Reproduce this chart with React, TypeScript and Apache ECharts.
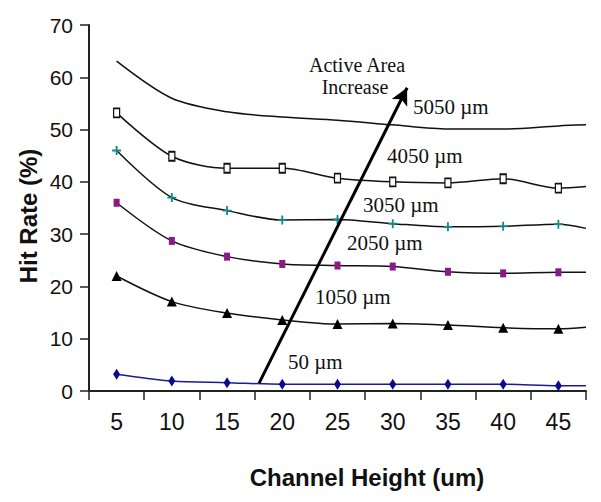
import React, { useEffect, useRef } from "react";
import * as echarts from "echarts";

// Channel heights (um) — x categories
const categories = [5, 10, 15, 20, 25, 30, 35, 40, 45];
// x position where plotted lines reach the right end of the axis
const axisEndX = 47.5;
const axisStartX = 2.5;

// Hit rate (%) per active-area series
const s5050 = [63.1, 56.0, 53.4, 52.4, 51.8, 50.9, 50.1, 50.1, 50.7];
const s4050 = [53.2, 44.9, 42.6, 42.6, 40.7, 40.0, 39.8, 40.6, 38.8];
const s3050 = [46.0, 37.0, 34.5, 32.7, 32.8, 32.0, 31.4, 31.5, 31.9];
const s2050 = [36.0, 28.7, 25.7, 24.3, 24.0, 23.8, 22.8, 22.5, 22.7];
const s1050 = [22.0, 17.1, 14.9, 13.6, 12.8, 12.9, 12.6, 12.1, 11.9];
const s50 = [3.2, 1.9, 1.6, 1.3, 1.3, 1.3, 1.3, 1.3, 1.0];
// value of each line where it meets the right end of the axis
const edgeValues = [50.9, 39.1, 31.1, 22.7, 12.2, 1.0];

const seriesNames = ["5050 µm", "4050 µm", "3050 µm", "2050 µm", "1050 µm", "50 µm"];
const yTicks = [0, 10, 20, 30, 40, 50, 60, 70];
const arrowLabelLines = ["Active Area", "Increase"];

// arrow annotation, data coordinates
const arrowFrom = [17.9, 1.5];
const arrowTo = [31.3, 58.0];

const plusPath = "path://M4,0h2v4h4v2h-4v4h-2v-4h-4v-2h4z";

export default function App() {
  const ref = useRef<HTMLDivElement>(null);
  useEffect(() => {
    if (!ref.current) return;
    const chart = echarts.init(ref.current, undefined, { renderer: "svg" });

    const mk = (vals: number[], edge: number) => [
      ...vals.map((v, i) => [categories[i], v]),
      { value: [axisEndX, edge], symbol: "none" },
    ];

    const styles = [
      { color: "#111", symbol: "none", symbolSize: 0, itemStyle: { color: "#111" } },
      { color: "#111", symbol: "rect", symbolSize: [6, 9], itemStyle: { color: "#fff", borderColor: "#111", borderWidth: 1.5 } },
      { color: "#111", symbol: plusPath, symbolSize: 9, itemStyle: { color: "#0f8a8a" } },
      { color: "#111", symbol: "rect", symbolSize: [6, 8], itemStyle: { color: "#8a1a8a" } },
      { color: "#111", symbol: "triangle", symbolSize: [10, 10], itemStyle: { color: "#000" } },
      { color: "#1a1a9a", symbol: "diamond", symbolSize: [7, 11], itemStyle: { color: "#0a0a90" } },
    ];
    const datasets = [s5050, s4050, s3050, s2050, s1050, s50];

    const series: any[] = datasets.map((vals, k) => ({
      name: seriesNames[k],
      type: "line",
      xAxisIndex: 1,
      smooth: 0.3,
      data: mk(vals, edgeValues[k]),
      symbol: styles[k].symbol,
      symbolSize: styles[k].symbolSize,
      showSymbol: styles[k].symbol !== "none",
      lineStyle: { color: styles[k].color, width: 1.5 },
      itemStyle: styles[k].itemStyle,
      z: 3,
    }));

    series[5].markLine = {
      silent: true,
      symbol: ["none", "arrow"],
      symbolSize: [13, 17],
      label: { show: false },
      lineStyle: { color: "#000", width: 3, type: "solid" },
      data: [[{ coord: arrowFrom }, { coord: arrowTo }]],
      z: 5,
    };

    const serif = "'Liberation Serif', 'Times New Roman', serif";
    const sans = "'Liberation Sans', Arial, sans-serif";
    const labelPos = [
      [413, 107],
      [387, 156],
      [363, 205],
      [347, 243],
      [315, 297],
      [288, 362],
    ];

    const graphic: any[] = seriesNames.map((n, k) => ({
      type: "text",
      x: labelPos[k][0],
      y: labelPos[k][1],
      style: { text: n, font: `21px ${serif}`, fill: "#111", textAlign: "left", textVerticalAlign: "middle" },
      z: 10,
    }));
    graphic.push(
      { type: "text", x: 357, y: 65, style: { text: arrowLabelLines[0], font: `20px ${serif}`, fill: "#111", textAlign: "center", textVerticalAlign: "middle" }, z: 10 },
      { type: "text", x: 355, y: 87, style: { text: arrowLabelLines[1], font: `20px ${serif}`, fill: "#111", textAlign: "center", textVerticalAlign: "middle" }, z: 10 },
      { type: "text", x: 367, y: 477, style: { text: "Channel Height (um)", font: `bold 24px ${sans}`, fill: "#111", textAlign: "center", textVerticalAlign: "middle" }, z: 10 },
      { type: "text", x: 28, y: 216, rotation: Math.PI / 2, style: { text: "Hit Rate (%)", font: `bold 24px ${sans}`, fill: "#111", textAlign: "center", textVerticalAlign: "middle" }, z: 10 }
    );

    chart.setOption({
      animation: false,
      backgroundColor: "#fff",
      grid: { left: 89, right: 15, top: 25, bottom: 111, containLabel: false },
      xAxis: [
        {
          type: "category",
          data: categories.map(String),
          boundaryGap: true,
          axisLine: { show: true, lineStyle: { color: "#222", width: 2 } },
          axisTick: { show: true, length: 9, interval: 0, lineStyle: { color: "#222", width: 1.5 } },
          axisLabel: { fontSize: 23, color: "#111", fontFamily: sans, margin: 19, interval: 0 },
          splitLine: { show: false },
        },
        {
          type: "value",
          min: axisStartX,
          max: axisEndX,
          show: false,
          splitLine: { show: false },
        },
      ],
      yAxis: {
        type: "value",
        min: yTicks[0],
        max: yTicks[yTicks.length - 1],
        interval: 10,
        axisLine: { show: true, lineStyle: { color: "#222", width: 2 } },
        axisTick: { show: true, length: 9, lineStyle: { color: "#222", width: 1.5 } },
        axisLabel: { fontSize: 21, color: "#111", fontFamily: sans, margin: 16 },
        splitLine: { show: false },
      },
      series,
      graphic,
    });
    return () => chart.dispose();
  }, []);
  return (
    <div
      ref={ref}
      style={{ position: "absolute", left: 0, top: 0, width: 601, height: 502, background: "#fff" }}
    />
  );
}
